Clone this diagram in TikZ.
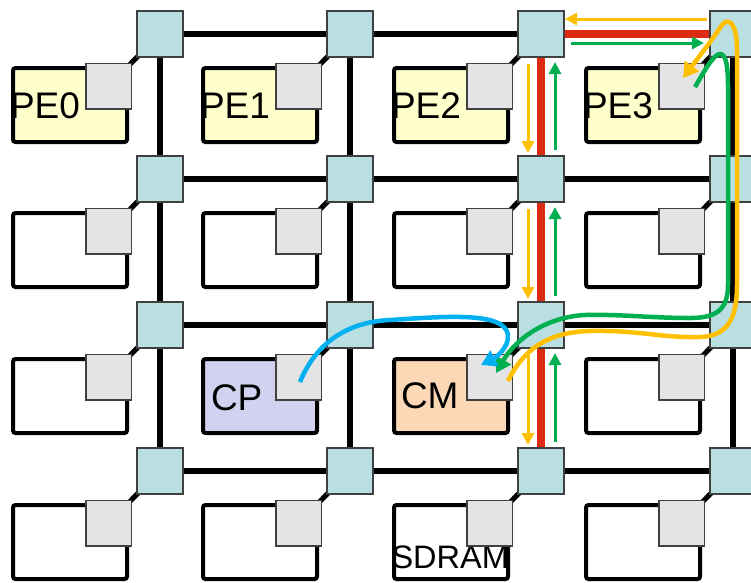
\documentclass[tikz,border=0pt]{standalone}
\usepackage{fontspec}
\setmainfont{Liberation Sans}
\usetikzlibrary{arrows.meta,calc,backgrounds}
\definecolor{pey}{HTML}{FFFFCC}
\definecolor{cpc}{HTML}{D0D2F0}
\definecolor{cmc}{HTML}{FCD8B6}
\definecolor{routerc}{HTML}{BADFE3}
\definecolor{nic}{HTML}{E4E4E4}
\definecolor{redc}{HTML}{DD2A12}
\definecolor{orangec}{HTML}{FFC000}
\definecolor{greenc}{HTML}{00B050}
\definecolor{bluec}{HTML}{00B0F0}
\begin{document}
\begin{tikzpicture}[x=1pt,y=-1pt,
  router/.style={draw=black!75,line width=1.2pt,fill=routerc,minimum width=46pt,minimum height=46pt,inner sep=0pt,outer sep=0pt},
  nibox/.style={draw=black!75,line width=1.5pt,fill=nic,minimum width=45.5pt,minimum height=45.5pt,inner sep=0pt,outer sep=0pt},
  tile/.style={draw=black,line width=4pt,rounded corners=2.5pt,minimum width=114pt,minimum height=74pt,inner sep=0pt,outer sep=0pt},
  lbl/.style={inner sep=0pt,outer sep=0pt,anchor=base west,font=\fontsize{37}{37}\selectfont},
  gridlink/.style={line width=6.5pt,black},
  redlink/.style={line width=8pt,redc},
  diag/.style={line width=5pt,black},
  thinarrow/.style={line width=3pt,-{Triangle[length=12pt,width=12pt]}},
  curvearrow/.style={line width=4.5pt,-{Triangle[length=15pt,width=17pt]}}]
\useasboundingbox (0,0) rectangle (751,582);
\clip (0,0) rectangle (751,582);
% routers
\foreach \r/\y in {1/34,2/179,3/325,4/471}
  \foreach \c/\x in {1/160,2/350,3/541,4/733}
    \node[router] (r\r\c) at (\x,\y) {};
% tiles
\foreach \r/\c/\f in {1/1/pey,1/2/pey,1/3/pey,1/4/pey,
                      2/1/white,2/2/white,2/3/white,2/4/white,
                      3/1/white,3/2/cpc,3/3/cmc,3/4/white,
                      4/1/white,4/2/white,4/3/white,4/4/white}
  \node[tile,fill=\f] (tile\r\c) at ($(r\r\c)+(-90,71)$) {};
% labels
\node[lbl] (tpe0) at ($(r11)+(-150,84)$) {PE0};
\node[lbl] (tpe1) at ($(r12)+(-150,84)$) {PE1};
\node[lbl] (tpe2) at ($(r13)+(-150,84)$) {PE2};
\node[lbl] (tpe3) at ($(r14)+(-150,84)$) {PE3};
\node[lbl] (tcp) at ($(r32)+(-139,85)$) {CP};
\node[lbl] (tcm) at ($(r33)+(-140,83)$) {CM};
\node[lbl,font=\fontsize{32.5}{32.5}\selectfont] (tsdram) at ($(r43)+(-149.5,97)$) {SDRAM};
% network interfaces
\foreach \r in {1,...,4}
  \foreach \c in {1,...,4}
    \node[nibox] (ni\r\c) at ($(r\r\c)+(-51.5,52)$) {};
% links behind
\begin{pgfonlayer}{background}
  \foreach \r in {1,...,4}
    \foreach \c/\n in {1/2,2/3,3/4}
      \draw[gridlink] (r\r\c.center) -- (r\r\n.center);
  \foreach \c in {1,...,4}
    \foreach \r/\n in {1/2,2/3,3/4}
      \draw[gridlink] (r\r\c.center) -- (r\n\c.center);
  \foreach \r in {1,...,4}
    \foreach \c in {1,...,4}
      \draw[diag] (ni\r\c.center) -- (r\r\c.center);
  \draw[redlink] (r13.center) -- (r14.center);
  \draw[redlink] (r13.center) -- (r43.center);
\end{pgfonlayer}
% straight arrows
\draw[thinarrow,orangec] ($(r14.west)+(-3,-15)$) -- ($(r13.east)+(1,-15)$);
\draw[thinarrow,greenc] ($(r13.east)+(7,9)$) -- ($(r14.west)+(-6,9)$);
\foreach \a/\b in {1/2,2/3,3/4}{
  \draw[thinarrow,orangec] ($(r\a3.south)+(-13,7)$) -- ($(r\b3.north)+(-13,-3)$);
  \draw[thinarrow,greenc] ($(r\b3.north)+(14,-6)$) -- ($(r\a3.south)+(14,5)$);
}
% curved transfers
\draw[curvearrow,greenc] ($(ni14)+(13.5,1)$)
  .. controls (705,70) and (714,53) .. (721,54)
  .. controls (727,56) and (728,70) .. (728,88)
  -- (728,285)
  .. controls (728,310) and (716,318) .. (690,318)
  .. controls (650,318) and (620,314) .. (585,315)
  .. controls (545,317) and (515,340) .. ($(ni33)+(6.5,-4)$);
\draw[curvearrow,orangec] ($(ni33)+(18.5,4)$)
  .. controls (522,352) and (545,332) .. (590,331)
  .. controls (640,330) and (660,338) .. (700,337)
  .. controls (730,336) and (737,315) .. (737,285)
  -- (737,50)
  .. controls (737,22) and (728,17) .. (722,25)
  .. controls (712,40) and (695,62) .. ($(ni14)+(1.5,-8)$);
\draw[curvearrow,bluec] ($(ni32)+(1.5,5)$)
  .. controls (315,345) and (345,322) .. (390,320)
  .. controls (450,316) and (505,312) .. (508,335)
  .. controls (509,348) and (495,358) .. ($(ni33)+(-8.5,-12)$);
\end{tikzpicture}
\end{document}
